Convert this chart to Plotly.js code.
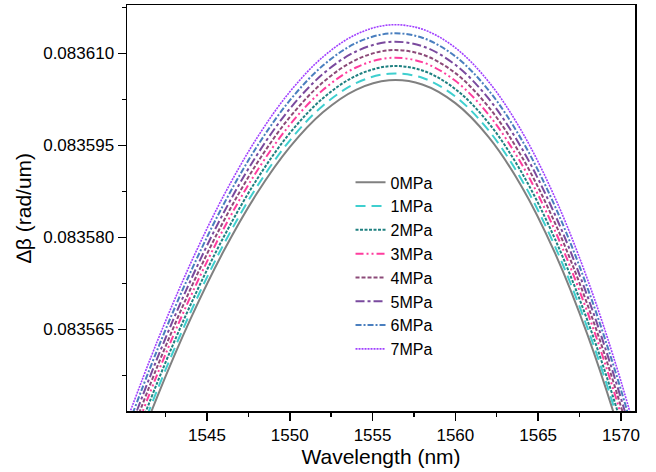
<!DOCTYPE html>
<html>
<head>
<meta charset="utf-8">
<script src="https://cdn.plot.ly/plotly-3.0.1.min.js"></script>
<style>html,body{margin:0;padding:0;background:#fff;}#chart{width:656px;height:472px;}</style>
</head>
<body>
<div id="chart"></div>
<script>
// Wavelength samples (nm)
const wavelength = [1540,1542,1544,1546,1548,1550,1552,1554,1556,1558,1560,1562,1564,1566,1568,1570,1572];

// Δβ (rad/um) for each pressure
const mpa0 = [0.08354001,0.08355408,0.08356669,0.08357774,0.08358711,0.08359470,0.08360038,0.08360405,0.08360560,0.08360492,0.08360188,0.08359639,0.08358832,0.08357757,0.08356402,0.08354757,0.08352809];
const mpa1 = [0.08354110,0.08355517,0.08356778,0.08357883,0.08358820,0.08359579,0.08360147,0.08360514,0.08360669,0.08360601,0.08360297,0.08359748,0.08358941,0.08357866,0.08356511,0.08354866,0.08352918];
const mpa2 = [0.08354230,0.08355637,0.08356898,0.08358003,0.08358940,0.08359699,0.08360267,0.08360634,0.08360789,0.08360721,0.08360417,0.08359868,0.08359061,0.08357986,0.08356631,0.08354986,0.08353038];
const mpa3 = [0.08354365,0.08355772,0.08357033,0.08358138,0.08359075,0.08359834,0.08360402,0.08360769,0.08360924,0.08360856,0.08360552,0.08360003,0.08359196,0.08358121,0.08356766,0.08355121,0.08353173];
const mpa4 = [0.08354490,0.08355897,0.08357158,0.08358263,0.08359200,0.08359959,0.08360527,0.08360894,0.08361049,0.08360981,0.08360677,0.08360128,0.08359321,0.08358246,0.08356891,0.08355246,0.08353298];
const mpa5 = [0.08354626,0.08356033,0.08357294,0.08358399,0.08359336,0.08360095,0.08360663,0.08361030,0.08361185,0.08361117,0.08360813,0.08360264,0.08359457,0.08358382,0.08357027,0.08355382,0.08353434];
const mpa6 = [0.08354763,0.08356170,0.08357431,0.08358536,0.08359473,0.08360232,0.08360800,0.08361167,0.08361322,0.08361254,0.08360950,0.08360401,0.08359594,0.08358519,0.08357164,0.08355519,0.08353571];
const mpa7 = [0.08354903,0.08356310,0.08357571,0.08358676,0.08359613,0.08360372,0.08360940,0.08361307,0.08361462,0.08361394,0.08361090,0.08360541,0.08359734,0.08358659,0.08357304,0.08355659,0.08353711];

const seriesNames = ['0MPa','1MPa','2MPa','3MPa','4MPa','5MPa','6MPa','7MPa'];
const seriesValues = [mpa0,mpa1,mpa2,mpa3,mpa4,mpa5,mpa6,mpa7];

const yTickVals = [0.083565,0.083580,0.083595,0.083610];
const yTickText = ['0.083565','0.083580','0.083595','0.083610'];
const xTickVals = [1545,1550,1555,1560,1565,1570];

const styles = [
  {color:'#808080', dash:'solid', width:2},
  {color:'#3fcfcf', dash:'10px,6px', width:2},
  {color:'#1f8080', dash:'3px,1.5px', width:2},
  {color:'#ff3d9e', dash:'8px,3px,2px,3px,2px,3px', width:2},
  {color:'#8c4a78', dash:'4px,2px', width:2},
  {color:'#7a4a9e', dash:'9px,3px,3px,3px', width:2},
  {color:'#4a7fbf', dash:'6px,2px,2px,2px', width:2},
  {color:'#a040ff', dash:'2px,1px', width:1.6}
];

const traces = seriesValues.map((ys,i)=>({
  x: wavelength, y: ys, type:'scatter', mode:'lines', name: seriesNames[i],
  line: {color: styles[i].color, dash: styles[i].dash, width: styles[i].width, shape:'spline', smoothing:1}
}));

const font = {family:'Liberation Sans, Arial, sans-serif', color:'#000'};

const layout = {
  width:656, height:472,
  margin:{l:127, r:21, t:5, b:61},
  paper_bgcolor:'#fff', plot_bgcolor:'#fff',
  showlegend:true,
  legend:{x:0.44, y:0.605, xanchor:'left', yanchor:'top', bgcolor:'rgba(0,0,0,0)', font:Object.assign({size:16}, font), tracegroupgap:0},
  xaxis:{
    range:[1540.17,1570.85], tickvals:xTickVals, ticks:'outside', ticklen:8, tickwidth:1.5, tickcolor:'#000',
    showline:true, linecolor:'#000', linewidth:1.5, mirror:true, showgrid:false, zeroline:false,
    tickfont:Object.assign({size:17}, font),
    minor:{dtick:2.5, ticks:'outside', ticklen:4, tickwidth:1.5, tickcolor:'#000', showgrid:false},
    title:{text:'Wavelength (nm)', font:Object.assign({size:21}, font), standoff:5}
  },
  yaxis:{
    range:[0.08355173,0.08361787], tickvals:yTickVals, ticktext:yTickText, ticks:'outside', ticklen:8, tickwidth:1.5, tickcolor:'#000',
    showline:true, linecolor:'#000', linewidth:1.5, mirror:true, showgrid:false, zeroline:false,
    tickfont:Object.assign({size:17}, font),
    minor:{tickvals:[0.0835575,0.0835725,0.0835875,0.0836025,0.0836175], ticks:'outside', ticklen:4, tickwidth:1.5, tickcolor:'#000', showgrid:false},
    title:{text:'∆β (rad/um)', font:Object.assign({size:21}, font), standoff:6}
  }
};

Plotly.newPlot('chart', traces, layout, {displayModeBar:false, staticPlot:true});
</script>
</body>
</html>
